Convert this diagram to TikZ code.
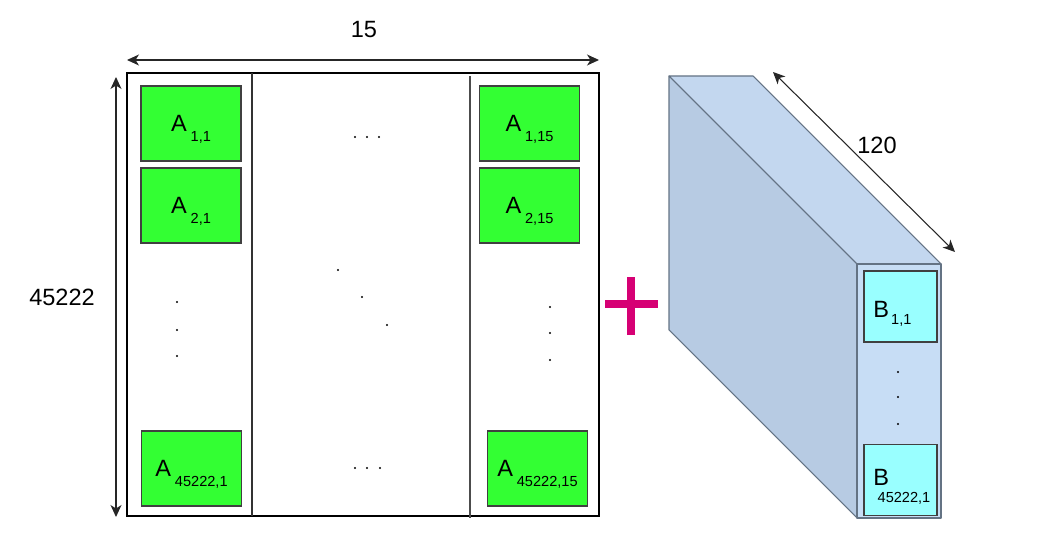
\documentclass[tikz,border=0pt]{standalone}
\usepackage{fontspec}
\setmainfont{Liberation Sans}
\usetikzlibrary{arrows.meta}
\definecolor{cellgreen}{RGB}{51,255,51}
\definecolor{cellcyan}{RGB}{153,255,255}
\definecolor{slabtop}{RGB}{195,215,239}
\definecolor{slabside}{RGB}{183,203,227}
\definecolor{slabfront}{RGB}{199,221,245}
\definecolor{slabedge}{RGB}{100,115,132}
\definecolor{plusred}{RGB}{214,0,116}
\newcommand{\subsz}{\fontsize{8.3}{10}\selectfont}
\newcommand{\acell}[1]{A\hspace{2.2pt}\raisebox{-5.7pt}{\subsz #1}}
\begin{document}
\begin{tikzpicture}[x=0.02cm,y=-0.02cm,font=\fontsize{13.4}{16}\selectfont,
    cellA/.style={draw=black!75,fill=cellgreen,line width=0.6pt,inner sep=0pt,
      minimum width=2cm,minimum height=1.5cm,text depth=0pt},
    cellB/.style={draw=black!75,fill=cellcyan,line width=0.6pt,inner sep=0pt,
      minimum width=1.46cm,minimum height=1.42cm},
    dimline/.style={{Stealth[length=2.4mm,width=2.2mm,inset=0.7mm]}-{Stealth[length=2.4mm,width=2.2mm,inset=0.7mm]},
      line width=0.6pt,black!85}]
  \useasboundingbox (0,0) rectangle (1045,557);
  % matrix A
  \draw[line width=0.7pt] (127,73) rectangle (599,516);
  \draw[black!80,line width=0.6pt] (252,73) -- (252,516);
  \draw[black!70,line width=0.6pt] (470,76) -- (470,518);
  \draw
    (191,123.5) node[cellA] (a11) {\acell{1,1}}
    (191,205.5) node[cellA] (a21) {\acell{2,1}}
    (529.5,123.5) node[cellA] (a115) {\acell{1,15}}
    (529.5,205.5) node[cellA] (a215) {\acell{2,15}}
    (191.5,468.5) node[cellA] (an1) {\acell{45222,1}}
    (537.5,468.5) node[cellA] (an15) {\acell{45222,15}};
  \foreach \x/\y in {355/137,367/137,379/137,355/468,367/468,380/468,
      177/302,177/330,177/356,550/307,550/333,550/360,
      338/270,362/297,387/325}
    \fill (\x,\y) circle[radius=0.022cm];
  % dimensions
  \coordinate (wl) at (127,60);
  \coordinate (wr) at (599,60);
  \coordinate (ht) at (116,77);
  \coordinate (hb) at (116,517);
  \coordinate (dt) at (773,72);
  \coordinate (db) at (955,252);
  \draw[dimline] (wl) -- (wr);
  \draw[dimline] (ht) -- (hb);
  \draw[dimline] (dt) -- (db);
  \node (wlab) at (364,30) {15};
  \node (hlab) at (62,297) {45222};
  \node (dlab) at (877,145) {120};
  % plus
  \fill[plusred] (605,300) rectangle (658,308);
  \fill[plusred] (627,277) rectangle (635,335);
  % tensor B
  \begin{scope}[draw=slabedge,line width=0.6pt,line join=round]
    \filldraw[fill=slabside] (669,76) -- (857,264) -- (857,518) -- (669,330) -- cycle;
    \filldraw[fill=slabtop] (669,76) -- (753,76) -- (941,264) -- (857,264) -- cycle;
    \filldraw[fill=slabfront] (857,264) rectangle (941,518);
  \end{scope}
  \node[cellB] (b1) at (900.5,306.5) {};
  \node[cellB] (bn) at (900.5,480) {};
  \foreach \y in {372,397,424}
    \fill (898,\y) circle[radius=0.022cm];
  \node[anchor=base west,inner sep=0pt] (b1t) at (873,317)
    {B\hspace{1.2pt}\raisebox{-4pt}{\subsz 1,1}};
  \node[anchor=base west,inner sep=0pt] (bnt) at (873,485)
    {B\rlap{\hspace{-6.5pt}\raisebox{-10.2pt}{\subsz 45222,1}}};
\end{tikzpicture}
\end{document}
